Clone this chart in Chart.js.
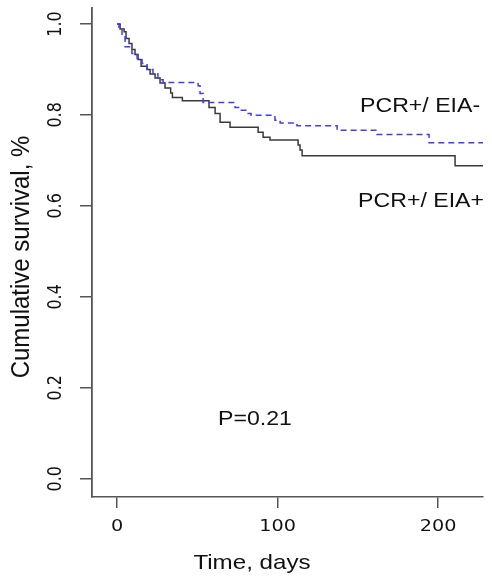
<!DOCTYPE html>
<html>
<head>
<meta charset="utf-8">
<script src="https://cdn.jsdelivr.net/npm/chart.js@4.4.0/dist/chart.umd.min.js"></script>
<style>
  html, body { margin: 0; padding: 0; background: #fff; }
  #wrap { width: 492px; height: 579px; }
</style>
</head>
<body>
<div id="wrap"><canvas id="kmChart"></canvas></div>
<script>
// Kaplan-Meier steps (day of drop, survival after drop)
const eiaPosDays = [0, 1.9, 4.4, 5.6, 7.5, 9.3, 11.2, 13.1, 15.0, 18.7, 20.6, 23.7, 26.8, 29.9, 33.4, 34.5, 40.7, 57.3, 61.1, 64.2, 70.4, 87.9, 91.0, 95.3, 112.8, 114.0, 115.3, 210.6, 228];
const eiaPosSurv = [1.0, 0.989, 0.983, 0.968, 0.957, 0.944, 0.933, 0.922, 0.907, 0.900, 0.890, 0.881, 0.870, 0.859, 0.848, 0.838, 0.831, 0.816, 0.803, 0.784, 0.773, 0.762, 0.751, 0.745, 0.734, 0.723, 0.710, 0.688, 0.688];

const eiaNegDays = [0, 1.2, 3.1, 5.0, 9.3, 12.5, 15.6, 18.7, 22.4, 25.5, 28.7, 50.5, 51.7, 53.6, 73.5, 76.6, 81.0, 83.5, 98.4, 101.6, 112.1, 137.1, 162.0, 194.4, 228];
const eiaNegSurv = [1.0, 0.989, 0.972, 0.950, 0.935, 0.924, 0.913, 0.900, 0.890, 0.877, 0.871, 0.864, 0.847, 0.827, 0.816, 0.810, 0.803, 0.799, 0.788, 0.782, 0.776, 0.766, 0.757, 0.739, 0.739];

const xTicks = [0, 100, 200];
const yTicks = [0, 0.2, 0.4, 0.6, 0.8, 1.0];
const yTickLabels = ["0.0", "0.2", "0.4", "0.6", "0.8", "1.0"];
const seriesNames = ["PCR+/ EIA-", "PCR+/ EIA+"];
const xTitle = "Time, days";
const yTitle = "Cumulative survival, %";
const pText = "P=0.21";

const toPoints = (xs, ys) => xs.map((x, i) => ({ x: x, y: ys[i] }));

function putText(ctx, str, x, y, font, align, baseline, rot, stretch) {
  ctx.save();
  ctx.translate(x, y);
  if (rot) {
    ctx.rotate(rot);
    ctx.scale(1, stretch);
  } else {
    ctx.scale(stretch, 1);
  }
  ctx.font = font;
  ctx.fillStyle = "#111";
  ctx.textAlign = align;
  ctx.textBaseline = baseline;
  ctx.fillText(str, 0, 0);
  ctx.restore();
}

const textPlugin = {
  id: "kmText",
  afterDraw(chart) {
    const ctx = chart.ctx;
    const xs = chart.scales.x, ys = chart.scales.y;
    const tickFont = "16px 'DejaVu Sans'";
    xTicks.forEach(v => {
      putText(ctx, String(v), xs.getPixelForValue(v), 527, tickFont, "center", "middle", 0, 1.2);
    });
    yTicks.forEach((v, i) => {
      putText(ctx, yTickLabels[i], 56, ys.getPixelForValue(v), tickFont, "center", "middle", -Math.PI / 2, 1.25);
    });
    putText(ctx, xTitle, 252, 569, "21px 'Liberation Sans'", "center", "alphabetic", 0, 1.15);
    putText(ctx, yTitle, 22, 257, "24px 'Liberation Sans'", "center", "middle", -Math.PI / 2, 1.1);
    const lab = "21px 'Liberation Sans'";
    putText(ctx, seriesNames[0], xs.getPixelForValue(151.4), ys.getPixelForValue(0.806), lab, "left", "alphabetic", 0, 1.1);
    putText(ctx, seriesNames[1], xs.getPixelForValue(150.2), ys.getPixelForValue(0.597), lab, "left", "alphabetic", 0, 1.1);
    putText(ctx, pText, xs.getPixelForValue(62.9), ys.getPixelForValue(0.118), lab, "left", "alphabetic", 0, 1.1);
  }
};

new Chart(document.getElementById("kmChart"), {
  type: "line",
  data: {
    datasets: [
      {
        label: seriesNames[0],
        data: toPoints(eiaNegDays, eiaNegSurv),
        borderColor: "#3d3dff",
        borderWidth: 1.5,
        borderDash: [6, 4],
        stepped: "before",
        pointRadius: 0,
        fill: false
      },
      {
        label: seriesNames[1],
        data: toPoints(eiaPosDays, eiaPosSurv),
        borderColor: "#3a3a3a",
        borderWidth: 1.5,
        stepped: "before",
        pointRadius: 0,
        fill: false
      }
    ]
  },
  options: {
    responsive: true,
    maintainAspectRatio: false,
    animation: false,
    layout: { padding: { top: 8, right: 9, left: 0, bottom: 0 } },
    plugins: { legend: { display: false }, tooltip: { enabled: false } },
    scales: {
      x: {
        type: "linear",
        min: -15.6,
        max: 228,
        afterBuildTicks: (s) => { s.ticks = xTicks.map(v => ({ value: v })); },
        afterFit: (s) => { s.height = 82; },
        ticks: { display: false },
        grid: { drawOnChartArea: false, drawTicks: true, tickLength: 11, color: "#555", lineWidth: 1.5 },
        border: { color: "#555", width: 1.5 }
      },
      y: {
        type: "linear",
        min: -0.04,
        max: 1.035,
        afterBuildTicks: (s) => { s.ticks = yTicks.map(v => ({ value: v })); },
        afterFit: (s) => { s.width = 92; },
        ticks: { display: false },
        grid: { drawOnChartArea: false, drawTicks: true, tickLength: 12, color: "#555", lineWidth: 1.5 },
        border: { color: "#555", width: 1.8 }
      }
    }
  },
  plugins: [textPlugin]
});
</script>
</body>
</html>
